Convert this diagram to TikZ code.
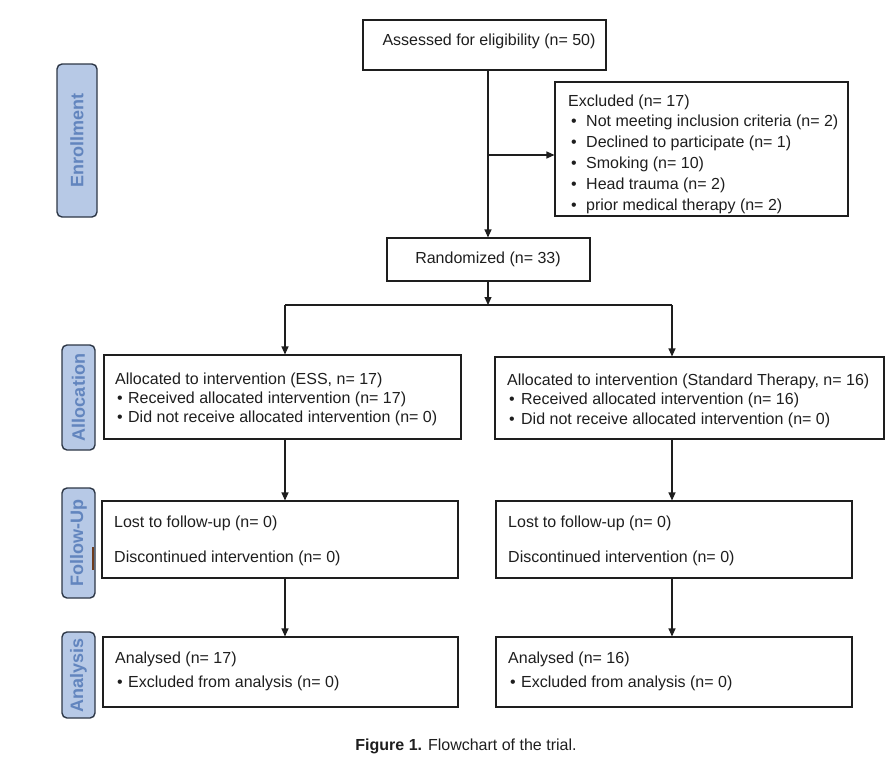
\documentclass[tikz,border=0pt]{standalone}
\usepackage{fontspec}
\setmainfont{Liberation Sans}
\usetikzlibrary{arrows.meta}
\definecolor{lblfill}{RGB}{183,201,230}
\definecolor{lbltext}{RGB}{98,133,190}
\definecolor{lbldraw}{RGB}{45,55,70}
\definecolor{stray}{RGB}{110,60,30}
\definecolor{ink}{RGB}{30,30,30}
\newcommand{\bul}[1]{\makebox[#1][l]{\textbullet}}
\begin{document}
\begin{tikzpicture}[x=1pt,y=-1pt,
  box/.style={draw=ink, line width=1.1pt, inner sep=0pt},
  txt/.style={anchor=north west, inner sep=0pt, align=left, text=ink},
  lbl/.style={draw=lbldraw, fill=lblfill, rounded corners=5pt, line width=1.4pt, inner sep=0pt},
  lbltxt/.style={rotate=90, text=lbltext, font=\bfseries\fontsize{18}{18}\selectfont, inner sep=0pt},
  arr/.style={draw=ink, -{Triangle[length=8pt,width=7pt]}, line width=1.1pt},
  conn/.style={draw=ink, line width=1.1pt}]
\useasboundingbox (0,0) rectangle (893,758);

% side labels
\node[lbl, minimum width=40pt, minimum height=153pt] (enr) at (77,140.5) {};
\node[lbltxt] (enrt) at (enr.center) {Enrollment};
\node[lbl, minimum width=33pt, minimum height=105pt] (alc) at (78.5,397.5) {};
\node[lbltxt] (alct) at (alc.center) {Allocation};
\node[lbl, minimum width=33pt, minimum height=110pt] (fol) at (78.5,543) {};
\node[lbltxt] (folt) at (fol.center) {Follow-Up};
\node[lbl, minimum width=33pt, minimum height=86pt] (ana) at (78.5,675) {};
\node[lbltxt] (anat) at (ana.center) {Analysis};
\draw[stray, line width=2pt] (92.5,547) -- (92.5,570);

% boxes
\node[box, minimum width=243pt, minimum height=50pt] (assess) at (484.5,45) {};
\node[box, minimum width=293pt, minimum height=134pt] (excl) at (701.5,149) {};
\node[box, minimum width=203pt, minimum height=43pt] (rand) at (488.5,259.5) {};
\node[box, minimum width=357pt, minimum height=84pt] (aL) at (282.5,397) {};
\node[box, minimum width=389pt, minimum height=82pt] (aR) at (689.5,398) {};
\node[box, minimum width=356pt, minimum height=77pt] (fL) at (280,539.5) {};
\node[box, minimum width=356pt, minimum height=77pt] (fR) at (674,539.5) {};
\node[box, minimum width=355pt, minimum height=70pt] (nL) at (280.5,672) {};
\node[box, minimum width=356pt, minimum height=70pt] (nR) at (674,672) {};

% texts
\node[txt, font=\fontsize{16}{20}\selectfont, anchor=base] (assesst) at (489,45) {Assessed for eligibility (n= 50)};
\node[txt, font=\fontsize{16}{20}\selectfont, anchor=base] (randt) at (488,263) {Randomized (n= 33)};
\node[txt, font=\fontsize{16}{20.9}\selectfont] (exclt) at (568,94.3) {Excluded (n= 17)\\
\hspace{3pt}\bul{15pt}Not meeting inclusion criteria (n= 2)\\
\hspace{3pt}\bul{15pt}Declined to participate (n= 1)\\
\hspace{3pt}\bul{15pt}Smoking (n= 10)\\
\hspace{3pt}\bul{15pt}Head trauma (n= 2)\\
\hspace{3pt}\bul{15pt}prior medical therapy (n= 2)};
\node[txt, font=\fontsize{16}{19.2}\selectfont] (aLt) at (115,372.3) {Allocated to intervention (ESS, n= 17)\\
\hspace{2pt}\bul{11pt}Received allocated intervention (n= 17)\\
\hspace{2pt}\bul{11pt}Did not receive allocated intervention (n= 0)};
\node[txt, font=\fontsize{16}{19.5}\selectfont] (aRt) at (507,373.3) {Allocated to intervention (Standard Therapy, n= 16)\\
\hspace{2pt}\bul{12pt}Received allocated intervention (n= 16)\\
\hspace{2pt}\bul{12pt}Did not receive allocated intervention (n= 0)};
\node[txt, font=\fontsize{16}{35}\selectfont] (fLt) at (114,515.3) {Lost to follow-up (n= 0)\\Discontinued intervention (n= 0)};
\node[txt, font=\fontsize{16}{35}\selectfont] (fRt) at (508,515.3) {Lost to follow-up (n= 0)\\Discontinued intervention (n= 0)};
\node[txt, font=\fontsize{16}{24}\selectfont] (nLt) at (115,651.3) {Analysed (n= 17)\\
\hspace{2pt}\bul{11pt}Excluded from analysis (n= 0)};
\node[txt, font=\fontsize{16}{24}\selectfont] (nRt) at (508,651.3) {Analysed (n= 16)\\
\hspace{2pt}\bul{11pt}Excluded from analysis (n= 0)};

% caption
\node[anchor=base, inner sep=0pt, text=ink, font=\fontsize{16}{20}\selectfont] (cap) at (466,750) {\textbf{Figure 1.} Flowchart of the trial.};

% connectors
\coordinate (br) at (488,155);
\coordinate (mid) at (488,305);
\coordinate (colL) at (285,305);
\coordinate (colR) at (672,305);
\draw[conn] (assess.south -| br) -- (br);
\draw[arr] (br) -- (rand.north -| br);
\draw[arr] (br) -- (excl.west |- br);
\draw[arr] (rand.south -| mid) -- (mid);
\draw[conn] (colL) -- (colR);
\draw[arr] (colL) -- (aL.north -| colL);
\draw[arr] (colR) -- (aR.north -| colR);
\draw[arr] (aL.south -| colL) -- (fL.north -| colL);
\draw[arr] (aR.south -| colR) -- (fR.north -| colR);
\draw[arr] (fL.south -| colL) -- (nL.north -| colL);
\draw[arr] (fR.south -| colR) -- (nR.north -| colR);
\end{tikzpicture}
\end{document}
